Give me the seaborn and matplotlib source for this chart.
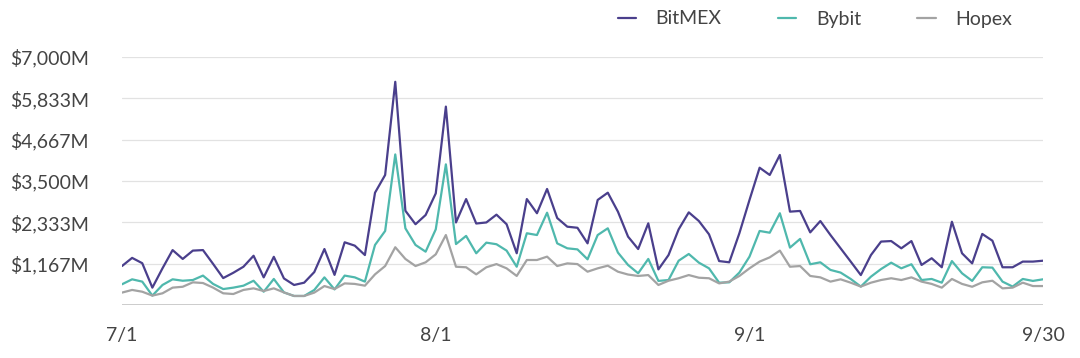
import numpy as np
import pandas as pd
import seaborn as sns
import matplotlib.pyplot as plt
from matplotlib.ticker import FixedLocator, FixedFormatter

# -----------------------------
# Data (daily volume, $M), 7/1 - 9/30
# -----------------------------
dates = pd.date_range('2020-07-01', '2020-09-30', freq='D')

bitmex = [
    1100, 1330, 1180, 490, 1035, 1550, 1300, 1535, 1550, 1160,
    760, 910, 1080, 1390, 780, 1360, 750, 565, 630, 930,
    1580, 850, 1770, 1675, 1410, 3170, 3670, 6300, 2660, 2280,
    2540, 3150, 5600, 2330, 2990, 2300, 2330, 2550, 2280, 1460,
    2990, 2590, 3275, 2455, 2210, 2180, 1740, 2965, 3170, 2635,
    1930, 1580, 2305, 1005, 1410, 2135, 2615, 2370, 1995, 1240,
    1205, 2025, 2965, 3875, 3670, 4235, 2635, 2655, 2050, 2370,
    1975, 1600, 1225, 845, 1410, 1790, 1805, 1600, 1805, 1130,
    1320, 1065, 2350, 1460, 1175, 2005, 1815, 1065, 1065, 1225,
    1225, 1250,
]
bybit = [
    585, 725, 660, 265, 565, 725, 685, 705, 830, 595,
    450, 490, 545, 685, 375, 735, 355, 255, 255, 425,
    780, 440, 830, 780, 660, 1695, 2090, 4250, 2165, 1695,
    1505, 2135, 3970, 1720, 1950, 1460, 1760, 1715, 1535, 1080,
    2025, 1975, 2605, 1740, 1600, 1570, 1290, 1975, 2165, 1480,
    1130, 895, 1300, 680, 705, 1250, 1440, 1195, 1035, 630,
    640, 915, 1365, 2090, 2040, 2590, 1620, 1865, 1150, 1205,
    990, 915, 735, 520, 800, 1015, 1195, 1035, 1150, 705,
    735, 630, 1240, 895, 680, 1065, 1055, 660, 520, 735,
    680, 725,
]
hopex = [
    350, 425, 375, 265, 330, 490, 515, 640, 620, 490,
    330, 310, 425, 470, 395, 470, 355, 255, 255, 350,
    535, 450, 610, 595, 545, 865, 1100, 1630, 1300, 1100,
    1205, 1430, 1975, 1080, 1065, 865, 1065, 1155, 1035, 820,
    1270, 1270, 1365, 1100, 1175, 1155, 940, 1035, 1110, 940,
    860, 820, 845, 565, 685, 755, 845, 770, 755, 610,
    660, 820, 1035, 1225, 1345, 1535, 1080, 1100, 820, 780,
    660, 725, 630, 520, 630, 705, 755, 705, 780, 660,
    595, 490, 735, 595, 515, 640, 685, 470, 490, 630,
    535, 535,
]

series_names = ['BitMEX', 'Bybit', 'Hopex']
colors = ['#4a3f8c', '#4fb8ad', '#a3a3a3']

y_ticks = [1167, 2333, 3500, 4667, 5833, 7000]
y_labels = ['$1,167M', '$2,333M', '$3,500M', '$4,667M', '$5,833M', '$7,000M']
x_tick_dates = ['2020-07-01', '2020-08-01', '2020-09-01', '2020-09-30']
x_labels = ['7/1', '8/1', '9/1', '9/30']

# -----------------------------
# Build long-form frame
# -----------------------------
df = pd.DataFrame({
    'date': np.tile(dates, 3),
    'volume': bitmex + bybit + hopex,
    'exchange': np.repeat(series_names, len(dates)),
})
df['day'] = (df['date'] - dates[0]).dt.days

# -----------------------------
# Plot
# -----------------------------
sns.set_theme(style='white')
plt.rcParams['font.family'] = ['Lato', 'DejaVu Sans']

fig = plt.figure(figsize=(10.8, 3.58), dpi=100)
ax = fig.add_axes([122 / 1080, 53 / 358, 921 / 1080, 248 / 358])

sns.lineplot(data=df, x='day', y='volume', hue='exchange', hue_order=series_names,
             palette=colors, linewidth=1.6, ax=ax)

ax.set_xlim(0, 91)
ax.set_ylim(0, 7000)

ax.yaxis.set_major_locator(FixedLocator(y_ticks))
ax.yaxis.set_major_formatter(FixedFormatter(y_labels))
x_pos = [(pd.Timestamp(d) - dates[0]).days for d in x_tick_dates]
ax.set_xticks(x_pos)
ax.set_xticklabels(x_labels)

ax.grid(axis='y', color='#e2e2e2', linewidth=0.9)
ax.axhline(0, color='#c4c4c4', linewidth=1.2, zorder=1)
for s in ax.spines.values():
    s.set_visible(False)

ax.tick_params(axis='both', length=0, labelsize=14, labelcolor='#444444')
ax.tick_params(axis='y', pad=24)
ax.tick_params(axis='x', pad=16)
ax.set_xlabel('')
ax.set_ylabel('')

handles, labels = ax.get_legend_handles_labels()
ax.legend(handles, labels, loc='center right', bbox_to_anchor=(1020 / 1080, 1 - 19 / 358),
          bbox_transform=fig.transFigure, ncol=3, frameon=False, fontsize=14,
          handlelength=0.95, handletextpad=1.0, columnspacing=2.9,
          labelcolor='#444444', borderaxespad=0)

fig.savefig('out.png', dpi=100)
plt.close(fig)
